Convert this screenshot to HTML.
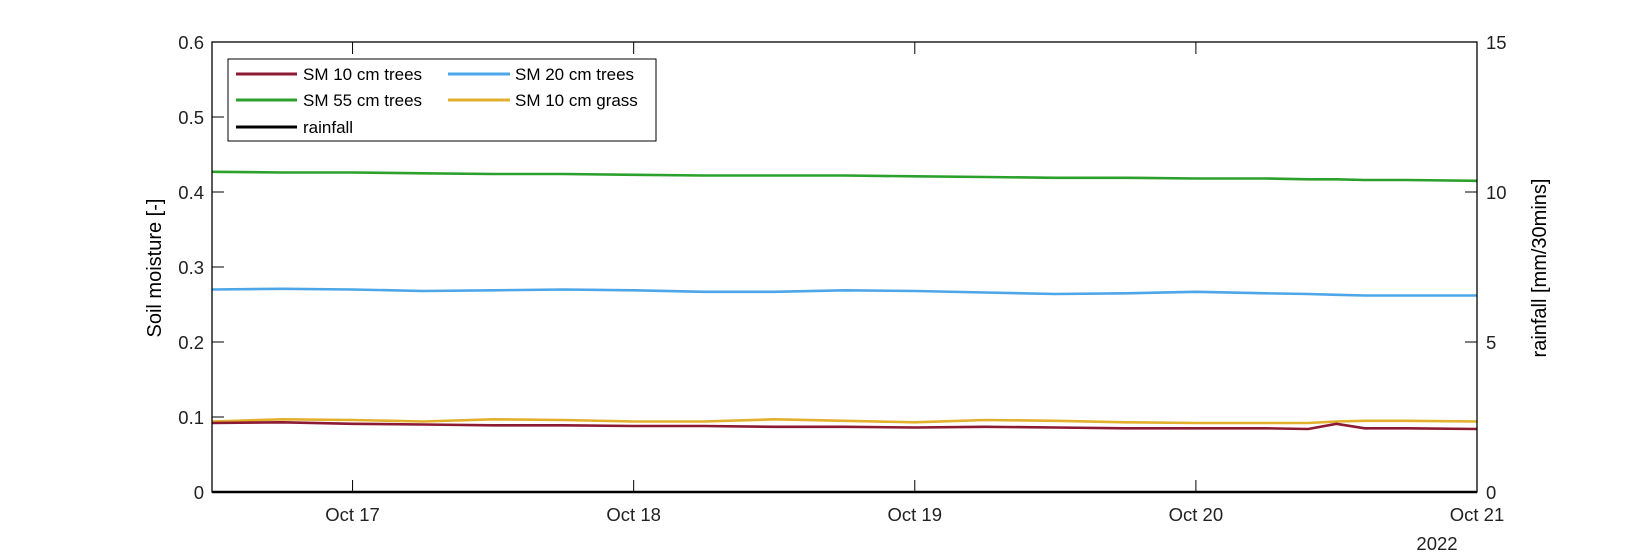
<!DOCTYPE html>
<html><head><meta charset="utf-8"><style>
body{margin:0;background:#fff;}
svg{display:block;font-family:"Liberation Sans",sans-serif;}
</style></head><body>
<svg id="chart" width="1633" height="555">
<rect x="0" y="0" width="1633" height="555" fill="#fff"/>
<g id="marks"></g><g id="axes"></g>
</svg>
<script>
const times=[0,0.25,0.5,0.75,1,1.25,1.5,1.75,2,2.25,2.5,2.75,3,3.25,3.5,3.75,3.9,4,4.1,4.25,4.5];
const sm10trees=[0.092,0.093,0.091,0.090,0.089,0.089,0.088,0.088,0.087,0.087,0.086,0.087,0.086,0.085,0.085,0.085,0.084,0.091,0.085,0.085,0.084];
const sm20trees=[0.270,0.271,0.270,0.268,0.269,0.270,0.269,0.267,0.267,0.269,0.268,0.266,0.264,0.265,0.267,0.265,0.264,0.263,0.262,0.262,0.262];
const sm55trees=[0.427,0.426,0.426,0.425,0.424,0.424,0.423,0.422,0.422,0.422,0.421,0.420,0.419,0.419,0.418,0.418,0.417,0.417,0.416,0.416,0.415];
const sm10grass=[0.094,0.097,0.096,0.094,0.097,0.096,0.094,0.094,0.097,0.095,0.093,0.096,0.095,0.093,0.092,0.092,0.092,0.094,0.095,0.095,0.094];
const rainfall=[0,0,0,0,0,0,0,0,0,0,0,0,0,0,0,0,0,0,0,0,0];
const yTicks=["0","0.1","0.2","0.3","0.4","0.5","0.6"];
const y2Ticks=["0","5","10","15"];
const xTickLabels=["Oct 17","Oct 18","Oct 19","Oct 20","Oct 21"];
const xTickDays=[0.5,1.5,2.5,3.5,4.5];

const L=212,R=1477,T=42,B=492;
const xs=t=>L+(t/4.5)*(R-L);
const ys=v=>B-(v/0.6)*(B-T);
const y2s=v=>B-(v/15)*(B-T);
const NS="http://www.w3.org/2000/svg";
const marks=document.getElementById('marks'),axes=document.getElementById('axes');
function mk(tag,attrs,parent){const e=document.createElementNS(NS,tag);for(const k in attrs)e.setAttribute(k,attrs[k]);parent.appendChild(e);return e;}

function series(vals,color,name,sc){
  const d=vals.map((v,i)=>(i?'L':'M')+xs(times[i]).toFixed(1)+','+sc(v).toFixed(1)).join('');
  const p=mk('path',{d:d,fill:'none',stroke:color,'stroke-width':2.6},marks);
  
  
}
series(sm55trees,'#2ca02c','series-sm-55cm-trees',ys);
series(sm20trees,'#4da6e8','series-sm-20cm-trees',ys);
series(sm10grass,'#e3b02e','series-sm-10cm-grass',ys);
series(sm10trees,'#8c1a33','series-sm-10cm-trees',ys);
series(rainfall,'#000','series-rainfall',y2s);

const frame=mk('rect',{x:L,y:T,width:R-L,height:B-T,fill:'none',stroke:'#000','stroke-width':1.3},axes);



yTicks.forEach(t=>{const y=ys(parseFloat(t));
  mk('line',{x1:L,x2:L+12,y1:y,y2:y,stroke:'#000'},axes);
  const tx=mk('text',{x:L-8,y:y+7,'text-anchor':'end','font-size':18.5,fill:'#222'},axes);tx.textContent=t;
  
  
});
y2Ticks.forEach(t=>{const y=y2s(parseFloat(t));
  mk('line',{x1:R-12,x2:R,y1:y,y2:y,stroke:'#000'},axes);
  const tx=mk('text',{x:R+9,y:y+7,'font-size':18.5,fill:'#222'},axes);tx.textContent=t;
  
  
});
xTickDays.forEach((d,i)=>{const x=xs(d);
  mk('line',{x1:x,x2:x,y1:B,y2:B-12,stroke:'#000'},axes);
  mk('line',{x1:x,x2:x,y1:T,y2:T+12,stroke:'#000'},axes);
  const tx=mk('text',{x:x,y:B+29,'text-anchor':'middle','font-size':18.5,fill:'#222'},axes);tx.textContent=xTickLabels[i];
  
  
});
</script>
<svg width="1633" height="555" style="position:absolute;left:0;top:0">
<text x="1437" y="550" text-anchor="middle" font-size="18.5" fill="#222" font-family="Liberation Sans">2022</text>
<text transform="translate(161,268) rotate(-90)" text-anchor="middle" font-size="20" fill="#000" font-family="Liberation Sans">Soil moisture [-]</text>
<text transform="translate(1546,268) rotate(-90)" text-anchor="middle" font-size="20" fill="#000" font-family="Liberation Sans">rainfall [mm/30mins]</text>
<g font-family="Liberation Sans" font-size="17" fill="#000">
<rect x="228" y="59" width="428" height="82" fill="#fff" stroke="#000" stroke-width="1"/>
<line x1="236" x2="297" y1="74" y2="74" stroke="#8c1a33" stroke-width="3"/><text x="303" y="80">SM 10 cm trees</text>
<line x1="448" x2="510" y1="74" y2="74" stroke="#4da6e8" stroke-width="3"/><text x="515" y="80">SM 20 cm trees</text>
<line x1="236" x2="297" y1="100" y2="100" stroke="#2ca02c" stroke-width="3"/><text x="303" y="106">SM 55 cm trees</text>
<line x1="448" x2="510" y1="100" y2="100" stroke="#e3b02e" stroke-width="3"/><text x="515" y="106">SM 10 cm grass</text>
<line x1="236" x2="297" y1="127" y2="127" stroke="#000" stroke-width="3"/><text x="303" y="133">rainfall</text>
</g>
</svg>
</body></html>
